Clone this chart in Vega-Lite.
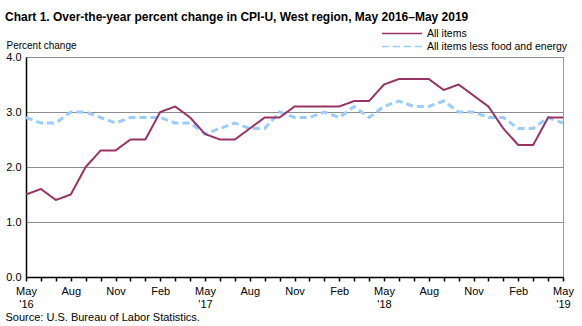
{
  "$schema": "https://vega.github.io/schema/vega-lite/v6.json",
  "width": 537,
  "height": 220,
  "autosize": {"type": "none"},
  "padding": {"left": 26, "top": 57, "right": 19, "bottom": 49},
  "background": "white",
  "config": {
    "font": "Liberation Sans",
    "view": {"stroke": "#999999", "strokeWidth": 1}
  },
  "title": {
    "text": "Chart 1. Over-the-year percent change in CPI-U, West region, May 2016–May 2019",
    "anchor": "start",
    "frame": "group",
    "fontSize": 12,
    "fontWeight": "bold",
    "color": "black",
    "dx": -21,
    "dy": 28,
    "offset": 22,
    "baseline": "alphabetic"
  },
  "data": {
    "values": [
      {"m": "2016-05", "all": 1.5, "core": 2.9},
      {"m": "2016-06", "all": 1.6, "core": 2.8},
      {"m": "2016-07", "all": 1.4, "core": 2.8},
      {"m": "2016-08", "all": 1.5, "core": 3.0},
      {"m": "2016-09", "all": 2.0, "core": 3.0},
      {"m": "2016-10", "all": 2.3, "core": 2.9},
      {"m": "2016-11", "all": 2.3, "core": 2.8},
      {"m": "2016-12", "all": 2.5, "core": 2.9},
      {"m": "2017-01", "all": 2.5, "core": 2.9},
      {"m": "2017-02", "all": 3.0, "core": 2.9},
      {"m": "2017-03", "all": 3.1, "core": 2.8},
      {"m": "2017-04", "all": 2.9, "core": 2.8},
      {"m": "2017-05", "all": 2.6, "core": 2.6},
      {"m": "2017-06", "all": 2.5, "core": 2.7},
      {"m": "2017-07", "all": 2.5, "core": 2.8},
      {"m": "2017-08", "all": 2.7, "core": 2.7},
      {"m": "2017-09", "all": 2.9, "core": 2.7},
      {"m": "2017-10", "all": 2.9, "core": 3.0},
      {"m": "2017-11", "all": 3.1, "core": 2.9},
      {"m": "2017-12", "all": 3.1, "core": 2.9},
      {"m": "2018-01", "all": 3.1, "core": 3.0},
      {"m": "2018-02", "all": 3.1, "core": 2.9},
      {"m": "2018-03", "all": 3.2, "core": 3.1},
      {"m": "2018-04", "all": 3.2, "core": 2.9},
      {"m": "2018-05", "all": 3.5, "core": 3.1},
      {"m": "2018-06", "all": 3.6, "core": 3.2},
      {"m": "2018-07", "all": 3.6, "core": 3.1},
      {"m": "2018-08", "all": 3.6, "core": 3.1},
      {"m": "2018-09", "all": 3.4, "core": 3.2},
      {"m": "2018-10", "all": 3.5, "core": 3.0},
      {"m": "2018-11", "all": 3.3, "core": 3.0},
      {"m": "2018-12", "all": 3.1, "core": 2.9},
      {"m": "2019-01", "all": 2.7, "core": 2.9},
      {"m": "2019-02", "all": 2.4, "core": 2.7},
      {"m": "2019-03", "all": 2.4, "core": 2.7},
      {"m": "2019-04", "all": 2.9, "core": 2.9},
      {"m": "2019-05", "all": 2.9, "core": 2.8}
    ]
  },
  "transform": [
    {"fold": ["core", "all"], "as": ["key", "value"]},
    {"lookup": "key", "from": {"data": {"values": [
      {"key": "all", "series": "All items"},
      {"key": "core", "series": "All items less food and energy"}
    ]}, "key": "key", "fields": ["series"]}}
  ],
  "encoding": {
    "x": {
      "field": "m",
      "type": "ordinal",
      "sort": "ascending",
      "scale": {"type": "point", "padding": 0},
      "axis": {
        "title": "Source: U.S. Bureau of Labor Statistics.",
        "titleFont": "Liberation Sans",
        "titleFontSize": 11,
        "titleFontWeight": "normal",
        "titleColor": "black",
        "titleAlign": "left",
        "titleAnchor": "start",
        "titleBaseline": "alphabetic",
        "titleX": -21,
        "titleY": 43,
        "labelAngle": 0,
        "labelAlign": "center",
        "labelFontSize": 11,
        "labelColor": "black",
        "labelFont": "Liberation Sans",
        "labelPadding": 4,
        "labelLineHeight": 13,
        "labelOverlap": false,
        "labelExpr": "substring(datum.value,5,7)=='05' ? ['May', \"'\" + substring(datum.value,2,4)] : substring(datum.value,5,7)=='08' ? 'Aug' : substring(datum.value,5,7)=='11' ? 'Nov' : substring(datum.value,5,7)=='02' ? 'Feb' : ''",
        "domainColor": "black",
        "domainWidth": 1.5,
        "tickColor": "black",
        "tickSize": 4,
        "tickWidth": 1.5,
        "grid": false
      }
    },
    "y": {
      "field": "value",
      "type": "quantitative",
      "scale": {"domain": [0, 4]},
      "axis": {
        "title": "Percent change",
        "titleAngle": 0,
        "titleAlign": "left",
        "titleBaseline": "alphabetic",
        "titleX": -20,
        "titleY": -9,
        "titleFont": "Liberation Sans",
        "titleFontSize": 10,
        "titleFontWeight": "normal",
        "titleColor": "black",
        "values": [0, 1, 2, 3, 4],
        "format": ".1f",
        "labelFontSize": 11,
        "labelColor": "black",
        "labelFont": "Liberation Sans",
        "labelPadding": 5,
        "ticks": false,
        "domainColor": "black",
        "domainWidth": 1.5,
        "gridColor": "#8c8c8c",
        "gridWidth": 1
      }
    },
    "color": {
      "field": "series",
      "type": "nominal",
      "scale": {"domain": ["All items", "All items less food and energy"], "range": ["#993366", "#99ccff"]},
      "legend": {
        "title": null,
        "orient": "none",
        "legendX": 355,
        "legendY": -30,
        "symbolType": "stroke",
        "symbolSize": 1600,
        "clipHeight": 13,
        "rowPadding": 0,
        "labelFontSize": 10.5,
        "labelFont": "Liberation Sans",
        "labelColor": "black",
        "labelOffset": 4
      }
    },
    "strokeDash": {
      "field": "series",
      "type": "nominal",
      "scale": {"domain": ["All items", "All items less food and energy"], "range": [[1, 0], [7, 4]]},
      "legend": null
    }
  },
  "layer": [
    {
      "transform": [{"filter": "datum.key == 'core'"}],
      "mark": {"type": "line", "strokeWidth": 3}
    },
    {
      "transform": [{"filter": "datum.key == 'all'"}],
      "mark": {"type": "line", "strokeWidth": 2}
    }
  ]
}
